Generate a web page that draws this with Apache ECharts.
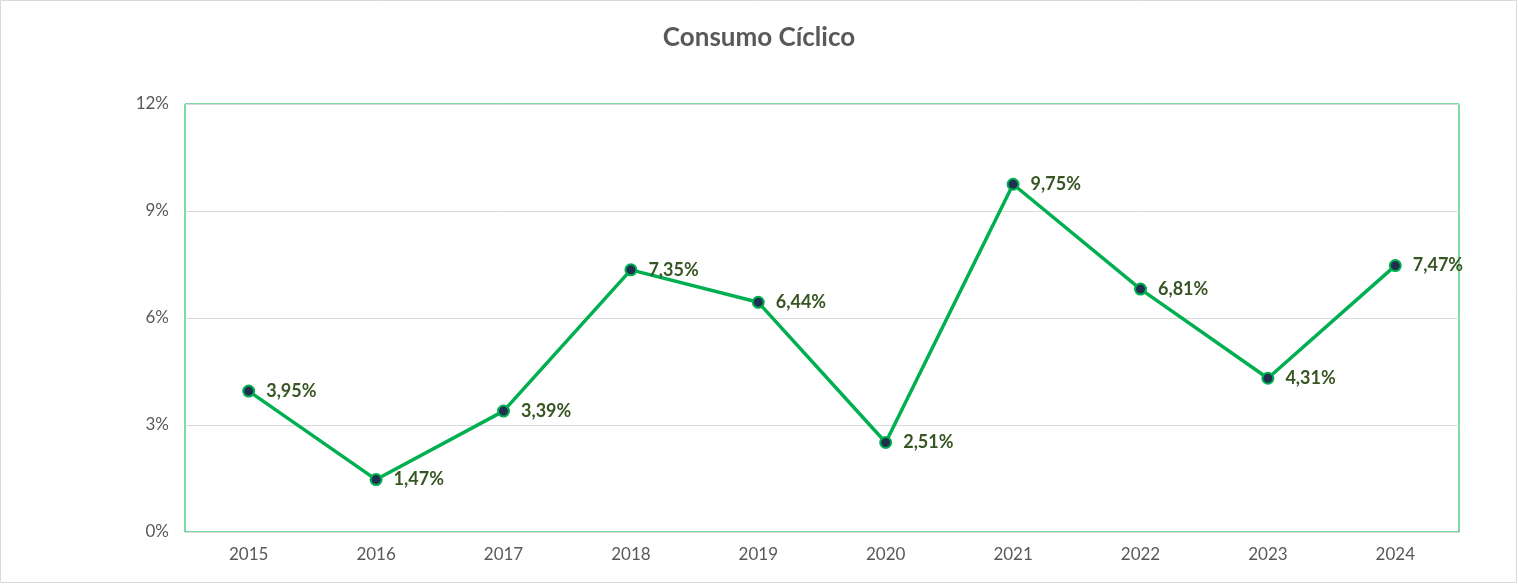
<!DOCTYPE html>
<html><head><meta charset="utf-8">
<script src="https://cdn.jsdelivr.net/npm/echarts@6/dist/echarts.min.js"></script>
<style>html,body{margin:0;padding:0;background:#fff}#c{width:1518px;height:584px}</style>
</head><body><div id="c"></div>
<script>
const categories = ['2015','2016','2017','2018','2019','2020','2021','2022','2023','2024'];
const values = [3.95,1.47,3.39,7.35,6.44,2.51,9.75,6.81,4.31,7.47];
const yTicks = [0,3,6,9,12];
const title = 'Consumo Cíclico';

const chart = echarts.init(document.getElementById('c'));
chart.setOption({
  animation:false,
  graphic:[{type:'rect',shape:{x:0.5,y:0.5,width:1516,height:582},style:{fill:'none',stroke:'#d9d9d9',lineWidth:1}}],
  title:{text:title,left:'center',top:20,textStyle:{fontFamily:'Lato, "Open Sans", sans-serif',fontSize:26,fontWeight:'bold',color:'#595959'}},
  grid:{left:185,right:59,top:104,bottom:52,show:true,borderColor:'#00B050',borderWidth:1,backgroundColor:'transparent'},
  xAxis:{type:'category',data:categories,boundaryGap:true,
    axisLine:{lineStyle:{color:'#d9d9d9'}},axisTick:{show:false},
    axisLabel:{color:'#595959',fontSize:17,fontFamily:'Lato, "Open Sans", sans-serif',margin:14}},
  yAxis:{type:'value',min:yTicks[0],max:yTicks[yTicks.length-1],interval:3,
    axisLine:{show:false},axisTick:{show:false},
    splitLine:{lineStyle:{color:'#d9d9d9'}},
    axisLabel:{color:'#595959',fontSize:17,fontFamily:'Lato, "Open Sans", sans-serif',margin:16,formatter:v=>v+'%'}},
  series:[{type:'line',data:values,symbol:'circle',symbolSize:11,
    lineStyle:{color:'#00B050',width:3.5},
    itemStyle:{color:'#1f3050',borderColor:'#00B050',borderWidth:2},
    label:{show:true,position:'right',distance:11,color:'#375623',fontWeight:'bold',fontSize:18,fontFamily:'Lato, "Open Sans", sans-serif',
      formatter:p=>p.value.toFixed(2).replace('.',',')+'%'}}]
});
</script></body></html>
